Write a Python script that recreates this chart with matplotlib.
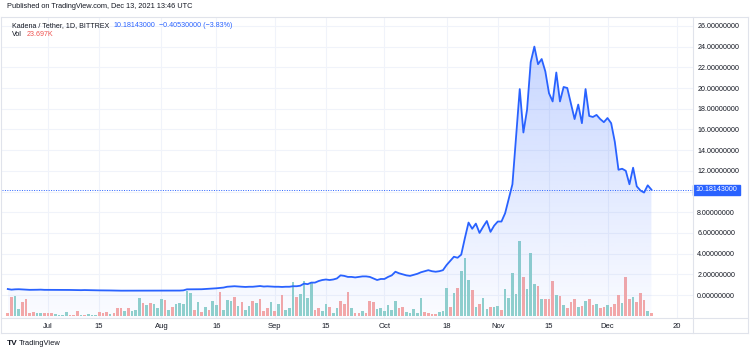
import numpy as np
import pandas as pd
import matplotlib
matplotlib.use("Agg")
import matplotlib.pyplot as plt
import matplotlib.dates as mdates
import matplotlib.transforms as mtransforms
from matplotlib.colors import LinearSegmentedColormap
from matplotlib.lines import Line2D
from matplotlib.patches import Rectangle

plt.rcParams['font.family'] = ['Liberation Sans', 'DejaVu Sans']

# daily KDA/USDT closes, Jun 20 - Dec 13 2021
price_jun = [0.58, 0.52, 0.55, 0.56, 0.54, 0.52, 0.50, 0.50, 0.51, 0.52, 0.50]
price_jul = [0.50, 0.49, 0.50, 0.51, 0.50, 0.49, 0.49, 0.48, 0.48, 0.47,
             0.48, 0.47, 0.46, 0.46, 0.45, 0.45, 0.44, 0.44, 0.43, 0.42,
             0.42, 0.42, 0.41, 0.41, 0.42, 0.43, 0.42, 0.43, 0.43, 0.42, 0.43]
price_aug = [0.43, 0.42, 0.42, 0.41, 0.42, 0.43, 0.45, 0.55, 0.55, 0.54,
             0.55, 0.56, 0.58, 0.60, 0.62, 0.65, 0.68, 0.72, 0.80, 0.82,
             0.85, 0.82, 0.80, 0.78, 0.80, 0.80, 0.84, 0.87, 0.82, 0.84, 0.82]
price_sep = [0.80, 0.80, 0.78, 0.80, 0.80, 0.85, 0.85, 0.90, 1.10, 1.05,
             1.20, 1.20, 1.35, 1.45, 1.50, 1.45, 1.50, 1.60, 1.90, 1.85,
             1.75, 1.75, 1.70, 1.75, 1.80, 1.80, 1.75, 1.60, 1.45, 1.55]
price_oct = [1.55, 1.75, 1.90, 2.25, 2.10, 2.00, 1.90, 1.85, 1.95, 2.05,
             2.20, 2.30, 2.40, 2.30, 2.25, 2.30, 2.40, 2.90, 3.30, 3.70,
             3.60, 3.90, 5.50, 7.00, 6.40, 6.90, 6.00, 6.60, 7.15, 6.10, 6.70]
price_nov = [7.10, 7.10, 7.90, 9.30, 10.70, 15.30, 19.90, 15.70, 17.90, 22.50,
             24.00, 22.30, 22.80, 21.60, 19.50, 18.70, 21.50, 18.70, 20.10, 20.00,
             18.50, 17.00, 18.40, 16.60, 19.90, 17.30, 17.20, 17.40, 17.00, 16.70]
price_dec = [17.10, 16.60, 14.80, 12.10, 12.20, 12.00, 10.70, 12.30, 10.50, 10.10,
             9.90, 10.60, 10.18143]

# volume in thousands
vol_a = [24, 170, 179, 59, 126, 150, 24, 33, 29, 24, 29, 29, 24, 18, 9, 9, 33,
         9, 5, 44, 9, 5, 18, 9, 9, 33, 24, 38, 15, 24, 68, 68, 48, 70]
vol_b = [41, 53, 156, 112, 94, 117, 108, 68, 152, 141, 53, 79, 103, 112, 108,
         217, 200, 50, 126, 38, 79, 50, 129, 97, 214, 53, 138, 132, 165, 85,
         126, 53, 92, 132]
vol_c = [117, 147, 47, 68, 126, 47, 106, 185, 53, 68, 297, 165, 194, 311, 156,
         302, 53, 68, 44, 103, 77, 24, 68, 132, 106, 209, 68, 24, 24, 41, 24,
         132, 123]
vol_d = [60, 68, 44, 94, 53, 132, 68, 82, 38, 24, 59, 24, 156, 38, 24, 15, 15, 35]
vol_e = [47, 244, 82, 200, 249, 399, 513, 317, 229, 77, 106, 161, 64, 82, 82,
         88, 53, 235, 156, 381, 194, 660, 346, 240, 557, 282, 264, 152, 152, 152,
         311, 185, 176, 97, 68, 126, 147, 82, 88, 132, 147, 94, 106, 68, 77,
         94, 82, 106, 185, 117, 346, 147, 170, 126, 200, 141, 47, 23.697]

# u = up bar (teal), d = down bar (red)
dir_a = "dduudddduuddduuuuddduduuudddudddud"
dir_b = "uuudu" + "duuud" + "uduuu" + "uudud" + "uduud" + "uuudu" + "duud"
dir_c = "udddu" + "duduu" + "uduuu" + "udduu" + "duudd" + "duddu" + "ddd"
dir_d = "uuuuu" + "udduu" + "uuudd" + "ddu"
dir_e = ("uudud" + "uuudu" + "duudu" + "uduuu" + "uuduu" + "ududd" + "dudud"
         + "ddudu" + "ddudd" + "udddu" + "ddudd" + "dud")

price = price_jun + price_jul + price_aug + price_sep + price_oct + price_nov + price_dec
volume = vol_a + vol_b + vol_c + vol_d + vol_e
vol_dir = dir_a + dir_b + dir_c + dir_d + dir_e
dates = pd.date_range('2021-06-20', periods=len(price), freq='D')

tick_dates = pd.to_datetime(['2021-07-01', '2021-07-15', '2021-08-01', '2021-08-16',
                             '2021-09-01', '2021-09-15', '2021-10-01', '2021-10-18',
                             '2021-11-01', '2021-11-15', '2021-12-01', '2021-12-20'])
tick_labels = ['Jul', '15', 'Aug', '16', 'Sep', '15', 'Oct', '18', 'Nov', '15', 'Dec', '20']
price_ticks = [0, 2, 4, 6, 8, 10, 12, 14, 16, 18, 20, 22, 24, 26]

last_price = price[-1]
change = -0.40530000
change_pct = -3.83
last_vol = volume[-1]

BLUE = '#2962ff'
TEAL = '#92d2cc'
RED = '#f7a9a7'
TXT = '#131722'
GRID = '#f0f3fa'
BORDER = '#e0e3eb'

W, H = 750, 354
fig = plt.figure(figsize=(W / 100, H / 100), dpi=100)
fig.patch.set_facecolor('white')

# pane in pixels: x 2..693, y 17..318
ax_v = fig.add_axes([2 / W, 36 / H, 691 / W, 301 / H])
ax_p = ax_v.twinx()

t0 = mdates.date2num(pd.Timestamp('2021-07-01'))
ax_v.set_ylim(-17.6, 2631)

# grid
ax_v.set_xticks(tick_dates)
ax_v.set_xticklabels(tick_labels)
ax_v.grid(axis='x', color=GRID, lw=0.8)
ax_v.set_axisbelow(True)
btr = mtransforms.blended_transform_factory(ax_v.transAxes, ax_p.transData)
for p in price_ticks:
    ax_v.add_line(Line2D([0, 1], [p, p], transform=btr, color=GRID, lw=0.8, zorder=0.5))

# volume bars
colors = [TEAL if c == 'u' else RED for c in vol_dir[:len(volume)]]
ax_v.bar(dates[:len(volume)], volume, width=0.72, color=colors, zorder=2)

# price area with vertical gradient
cmap = LinearSegmentedColormap.from_list(
    'area', [(41 / 255, 98 / 255, 1, 0.02), (41 / 255, 98 / 255, 1, 0.26)])
poly = ax_p.fill_between(dates, price, -2.22, color='none', lw=0)
xn = mdates.date2num(dates)
grad = np.linspace(0, 1, 256).reshape(-1, 1)
img = ax_p.imshow(grad, extent=[xn[0], xn[-1], -2.22, max(price)], aspect='auto',
                  cmap=cmap, origin='lower', zorder=1)
img.set_clip_path(poly.get_paths()[0], transform=ax_p.transData)
ax_p.plot(dates, price, color=BLUE, lw=1.3, zorder=3)
ax_p.axhline(last_price, color=BLUE, lw=0.7, ls=(0, (1, 1.5)), zorder=2.5)
ax_v.set_xlim(t0 - 12.58, t0 + 176.38)
ax_p.set_ylim(-2.22, 26.86)

# axes styling
for a in (ax_v, ax_p):
    a.patch.set_visible(False)
    for s in a.spines.values():
        s.set_visible(False)
ax_v.set_yticks([])
ax_v.tick_params(axis='x', length=0, pad=3.4, labelsize=5.5, labelcolor=TXT)
ax_p.set_yticks(price_ticks)
ax_p.set_yticklabels(['' if p == 10 else f'{p:.8f}' for p in price_ticks])
ax_p.tick_params(axis='y', length=0, pad=3.0, labelsize=5.1, labelcolor=TXT)

# last price tag
tag_tr = mtransforms.blended_transform_factory(ax_p.transAxes, ax_p.transData)
ax_p.add_patch(Rectangle((0.0 + 1.0, last_price - 0.47), 47 / 691, 0.94, transform=tag_tr,
                         color=BLUE, clip_on=False, zorder=5))
ax_p.text(1.0 + 23.5 / 691, last_price, f'{last_price:.8f}', transform=tag_tr,
          ha='center', va='center', color='white', fontsize=5.1, zorder=6, clip_on=False)

# pane borders
def fline(x0, y0, x1, y1):
    fig.add_artist(Line2D([x0 / W, x1 / W], [1 - y0 / H, 1 - y1 / H],
                          transform=fig.transFigure, color=BORDER, lw=0.8))

fline(1, 17, 748, 17)
fline(1, 333, 748, 333)
fline(1, 17, 1, 333)
fline(748, 17, 748, 333)
fline(1, 318, 748, 318)
fline(693, 17, 693, 333)

# header texts
def ftext(x, y, s, **kw):
    return fig.text(x / W, 1 - y / H, s, va='center', ha='left', **kw)

def after(prev, s, gap=3.0, **kw):
    return fig.add_artist(plt.Annotation(s, xy=(1, 0.5), xycoords=prev, xytext=(gap, 0),
                                         textcoords='offset points', va='center', ha='left', **kw))

ftext(7, 7, 'Published on TradingView.com, Dec 13, 2021 13:46 UTC', fontsize=5.3, color=TXT)
t1 = ftext(12, 25.5, 'Kadena / Tether, 1D, BITTREX', fontsize=5.1, color=TXT)
t2 = after(t1, f'{last_price:.8f}', fontsize=5.1, color=BLUE)
after(t2, f'\u2212{abs(change):.8f} (\u2212{abs(change_pct):.2f}%)', fontsize=5.1, color=BLUE)
t4 = ftext(12, 35, 'Vol', fontsize=5.1, color=TXT)
after(t4, f'{last_vol:.3f}K', gap=3.5, fontsize=5.1, color='#ef5350')

# footer logo
ftext(7, 343.5, 'TV', fontsize=6, color=TXT, fontweight='bold')
ftext(19, 343.5, 'TradingView', fontsize=5.4, color=TXT)

fig.savefig('out.png', dpi=100)
